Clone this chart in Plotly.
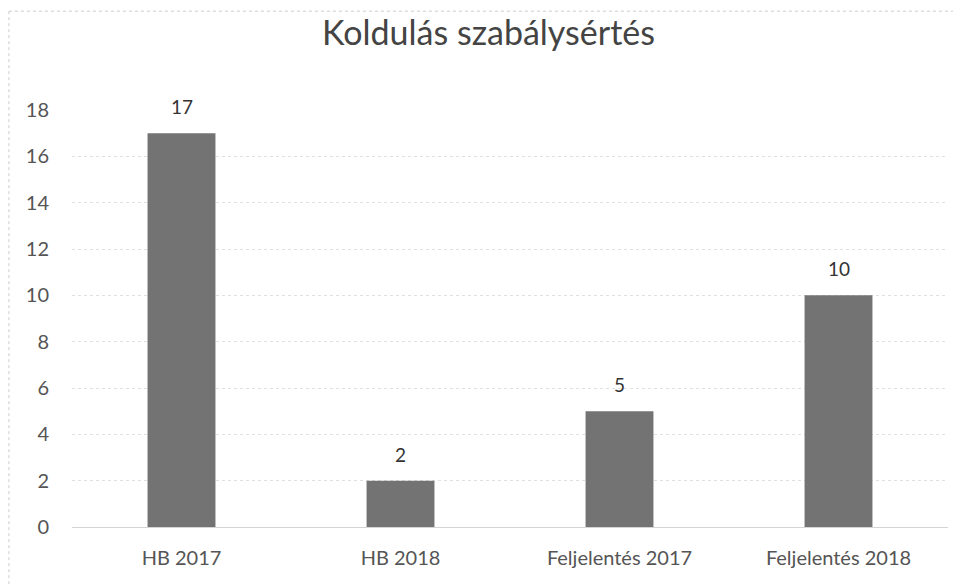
import plotly.graph_objects as go

categories = ["HB 2017", "HB 2018", "Feljelentés 2017", "Feljelentés 2018"]
values = [17, 2, 5, 10]
y_ticks = [0, 2, 4, 6, 8, 10, 12, 14, 16, 18]
title_text = "Koldulás szabálysértés"

FONT = "Lato, 'Open Sans', sans-serif"

fig = go.Figure(go.Bar(
    x=categories, y=values,
    marker=dict(color="#737373", line=dict(width=0)),
    cliponaxis=False,
))

for c, v in zip(categories, values):
    fig.add_annotation(x=c, y=v, text=str(v), showarrow=False, yanchor="bottom",
                       yshift=13, font=dict(size=19, color="#333333", family=FONT))

fig.update_layout(
    width=961, height=584,
    margin=dict(l=64, r=21, t=102, b=65, autoexpand=False),
    paper_bgcolor="white", plot_bgcolor="white",
    bargap=0.69,
    showlegend=False,
    title=dict(text=title_text, x=0.5, xref="container", xanchor="center",
               y=0.957, yref="container", yanchor="middle",
               font=dict(size=34, color="#444444", family=FONT)),
    xaxis=dict(showgrid=False, showline=False, ticks="", automargin=False,
               ticklabelstandoff=17,
               tickfont=dict(size=20, color="#555555", family=FONT)),
    yaxis=dict(range=[0, 18], tickvals=y_ticks, showgrid=True, gridcolor="#e0e0e0", gridwidth=1,
               griddash="dot", zeroline=True, zerolinecolor="#d4d4d4", zerolinewidth=1,
               showline=False, ticks="", ticklabelstandoff=22, automargin=False,
               tickfont=dict(size=20, color="#555555", family=FONT)),
    shapes=[
        dict(type="line", xref="paper", yref="paper", x0=-0.072, x1=1.03, y0=1.237, y1=1.237,
             line=dict(color="#cccccc", width=1, dash="dot")),
        dict(type="line", xref="paper", yref="paper", x0=-0.072, x1=-0.072, y0=1.237, y1=-0.16,
             line=dict(color="#cccccc", width=1, dash="dot")),
    ],
)

fig.write_html("out.html")
